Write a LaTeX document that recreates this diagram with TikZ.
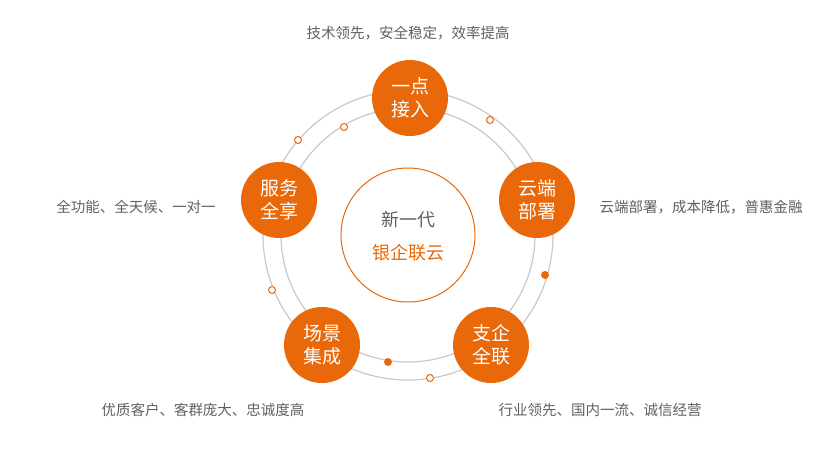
\documentclass[tikz,border=0pt]{standalone}
\usepackage{fontspec}
\setmainfont{Noto Sans CJK SC}
\begin{document}
\begin{tikzpicture}[x=1pt,y=-1pt,
  big/.style={circle,fill=org,text=white,minimum size=76pt,inner sep=0pt,font=\fontsize{19}{23}\selectfont,align=center},
  lab/.style={text=txt,font=\fontsize{14.5}{17}\selectfont},
  ring/.style={draw=ringc,line width=1.2pt},
  hdot/.style={circle,draw=org,fill=white,line width=1pt,minimum size=7pt,inner sep=0pt},
  fdot/.style={circle,fill=org,minimum size=8pt,inner sep=0pt}]
\definecolor{org}{HTML}{E8680A}
\definecolor{txt}{HTML}{606060}
\definecolor{ringc}{HTML}{C8C8C8}
\useasboundingbox (0,0) rectangle (839,450);
\coordinate (c) at (408,235);
\draw[ring] (c) circle (145);
\draw[ring] (c) circle (127);
\node[circle,draw=org,line width=1pt,minimum size=134pt,inner sep=0pt] (core) at (c) {};
\node[text=txt,font=\fontsize{18}{21}\selectfont] (t1) at (408,220) {新一代};
\node[text=org,font=\fontsize{18}{21}\selectfont] (t2) at (408,253) {银企联云};
\node[hdot] (d1) at (298,140) {};
\node[hdot] (d2) at (344,127) {};
\node[hdot] (d3) at (490,120) {};
\node[fdot] (d4) at (545,275) {};
\node[hdot] (d5) at (430,378) {};
\node[fdot] (d6) at (388,362) {};
\node[hdot] (d7) at (272,290) {};
\node[big] (n1) at (410,98) {一点\\接入};
\node[big] (n2) at (537,200) {云端\\部署};
\node[big] (n3) at (491,345) {支企\\全联};
\node[big] (n4) at (322,345) {场景\\集成};
\node[big] (n5) at (279,200) {服务\\全享};
\node[lab] (l1) at (408,33) {技术领先，安全稳定，效率提高};
\node[lab] (l2) at (701,207) {云端部署，成本降低，普惠金融};
\node[lab] (l3) at (600,410) {行业领先、国内一流、诚信经营};
\node[lab] (l4) at (203,410) {优质客户、客群庞大、忠诚度高};
\node[lab] (l5) at (136,207) {全功能、全天候、一对一};
\end{tikzpicture}
\end{document}
